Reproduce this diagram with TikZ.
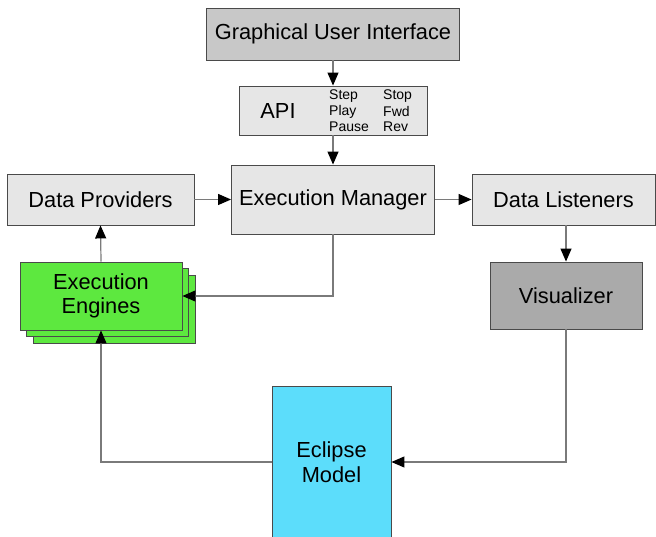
\documentclass[tikz,border=0pt]{standalone}
\usepackage{fontspec}
\setmainfont{Liberation Sans}
\usetikzlibrary{arrows.meta}
\definecolor{guigrey}{HTML}{C8C8C8}
\definecolor{lightbox}{HTML}{E6E6E6}
\definecolor{visgrey}{HTML}{AAAAAA}
\definecolor{enginegreen}{HTML}{5DE83F}
\definecolor{modelcyan}{HTML}{5CDDFB}
\definecolor{edgegrey}{HTML}{4A4A4A}
\definecolor{linegrey}{HTML}{7A7A7A}
\tikzset{
  box/.style={draw=edgegrey, line width=0.9pt, rectangle, align=center,
    inner sep=0pt, font=\fontsize{21.8}{24.5}\selectfont},
  smalltext/.style={inner sep=0pt, anchor=west, font=\fontsize{14}{15}\selectfont},
  link/.style={draw=linegrey, line width=1.2pt,
    -{Triangle[length=13pt,width=11pt,color=black]}},
}
\begin{document}
\begin{tikzpicture}[x=1pt,y=-1pt]
  \useasboundingbox (0,0) rectangle (656,537);
  \clip (0,0) rectangle (656,537);
  % top of the stack
  \node[box, fill=guigrey, minimum width=253pt, minimum height=52pt] (gui) at (333,34) {Graphical User Interface};
  \node[box, fill=lightbox, minimum width=188pt, minimum height=49pt] (api) at (333,110.5) {};
  \node[inner sep=0pt, font=\fontsize{21.8}{24.5}\selectfont] (apilabel) at (278,111) {API};
  \node[smalltext] (cstep) at (329,96) {Step};
  \node[smalltext] (cplay) at (329,111.5) {Play};
  \node[smalltext] (cpause) at (329,127) {Pause};
  \node[smalltext] (cstop) at (383,96) {Stop};
  \node[smalltext] (cfwd) at (383,111.5) {Fwd};
  \node[smalltext] (crev) at (383,127) {Rev};
  % middle row
  \node[box, fill=lightbox, minimum width=203pt, minimum height=69pt] (em) at (333,199.5) {Execution Manager};
  \node[box, fill=lightbox, minimum width=187pt, minimum height=51pt] (dp) at (100.5,199.5) {Data Providers};
  \node[box, fill=lightbox, minimum width=183pt, minimum height=51pt] (dl) at (563.5,199.5) {Data Listeners};
  % stacked execution engines
  \node[box, fill=enginegreen, minimum width=162pt, minimum height=68pt] (ee3) at (114,309) {};
  \node[box, fill=enginegreen, minimum width=162pt, minimum height=68pt] (ee2) at (107.5,302.5) {};
  \node[box, fill=enginegreen, minimum width=162pt, minimum height=68pt] (ee) at (101,296) {Execution\\Engines};
  \node[box, fill=visgrey, minimum width=152pt, minimum height=67pt] (vis) at (566,295.5) {Visualizer};
  % model at the bottom
  \node[box, fill=modelcyan, minimum width=119pt, minimum height=152pt] (ecl) at (331.5,462) {Eclipse\\Model};
  % connectors
  \draw[link] (gui.south) -- (api.north);
  \draw[link] (api.south) -- (em.north);
  \draw[link] (dp.east) -- (em.west);
  \draw[link] (em.east) -- (dl.west);
  \draw[link] (ee.north) -- (dp.south);
  \draw[link] (dl.south -| vis.north) -- (vis.north);
  \draw[link] (em.south) |- (ee.east);
  \draw[link] (vis.south) |- (ecl.east);
  \draw[link] (ecl.west) -| (ee.south);
\end{tikzpicture}
\end{document}
